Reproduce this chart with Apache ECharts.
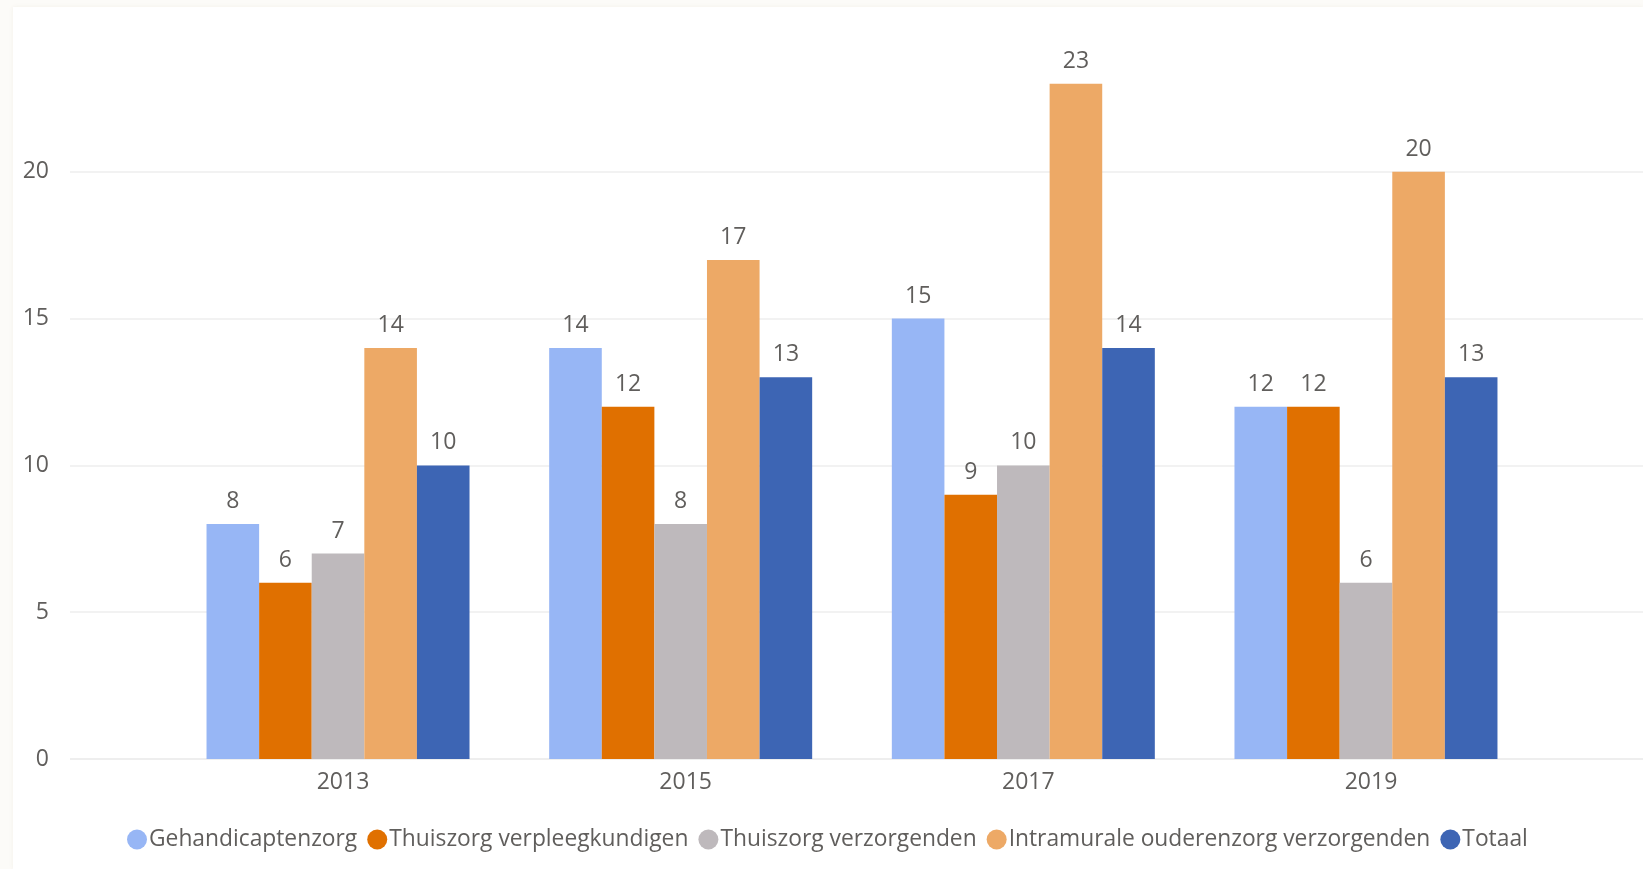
<!DOCTYPE html>
<html>
<head>
<meta charset="utf-8">
<title>Verzuim per sector</title>
<script src="https://cdn.jsdelivr.net/npm/echarts@6/dist/echarts.min.js"></script>
<style>
  html, body { margin: 0; padding: 0; width: 1643px; height: 869px; background: #FCFBF8; overflow: hidden; }
  #panel { position: absolute; left: 13px; top: 7px; right: 0; bottom: 0; background: #FFFFFF; box-shadow: 0 0 4px rgba(240, 235, 225, 0.6); }
  #chart { position: absolute; left: 0; top: 0; width: 1643px; height: 869px; }
</style>
</head>
<body>
<div id="panel"></div>
<div id="chart"></div>
<script>
// Jaren op de categorie-as
const years = ['2013', '2015', '2017', '2019'];

// Waarden per sector
const gehandicaptenzorg = [8, 14, 15, 12];
const thuiszorgVerpleegkundigen = [6, 12, 9, 12];
const thuiszorgVerzorgenden = [7, 8, 10, 6];
const intramuraleVerzorgenden = [14, 17, 23, 20];
const totaal = [10, 13, 14, 13];

const seriesNames = [
  'Gehandicaptenzorg',
  'Thuiszorg verpleegkundigen',
  'Thuiszorg verzorgenden',
  'Intramurale ouderenzorg verzorgenden',
  'Totaal'
];
const seriesValues = [gehandicaptenzorg, thuiszorgVerpleegkundigen, thuiszorgVerzorgenden, intramuraleVerzorgenden, totaal];
const colors = ['#97B6F5', '#E07000', '#BEB9BC', '#EDA966', '#3D65B4'];

const textColor = '#605E5C';
const fontFamily = '"Open Sans", "Noto Sans", sans-serif';
const fontSize = 23;

const chart = echarts.init(document.getElementById('chart'), null, { renderer: 'canvas' });

const series = seriesNames.map((name, i) => ({
  name: name,
  type: 'bar',
  xAxisIndex: 1,
  yAxisIndex: 1,
  data: seriesValues[i],
  barWidth: 52.6,
  barGap: '0%',
  itemStyle: { color: colors[i] },
  label: {
    show: true,
    position: 'top',
    distance: 11,
    color: textColor,
    fontFamily: fontFamily,
    fontSize: fontSize
  }
}));

chart.setOption({
  animation: false,
  color: colors,
  textStyle: { fontFamily: fontFamily },
  grid: [
    // full-width grid carrying the value axis and gridlines
    { left: 70, right: 0, top: 25, bottom: 110, containLabel: false },
    // grid holding the grouped bars
    { left: 166.7, right: 105.7, top: 25, bottom: 110, containLabel: false }
  ],
  xAxis: [
    { type: 'category', gridIndex: 0, data: years, show: false },
    {
      type: 'category',
      gridIndex: 1,
      data: years,
      axisLine: { show: false },
      axisTick: { show: false },
      axisLabel: {
        color: textColor,
        fontFamily: fontFamily,
        fontSize: fontSize,
        margin: 12,
        padding: [0, 0, 0, 10]
      }
    }
  ],
  yAxis: [
    {
      type: 'value',
      gridIndex: 0,
      min: 0,
      max: 25,
      interval: 5,
      axisLine: { show: false },
      axisTick: { show: false },
      axisLabel: {
        showMaxLabel: false,
        color: textColor,
        fontFamily: fontFamily,
        fontSize: fontSize,
        margin: 21
      },
      splitLine: {
        show: true,
        lineStyle: {
          width: 2,
          color: ['#EEEEEE', '#F2F2F2', '#F2F2F2', '#F2F2F2', '#F2F2F2', 'rgba(0,0,0,0)']
        }
      }
    },
    { type: 'value', gridIndex: 1, min: 0, max: 25, interval: 5, show: false }
  ],
  legend: {
    data: seriesNames,
    bottom: 13,
    left: 122,
    icon: 'circle',
    itemWidth: 20,
    itemHeight: 20,
    itemGap: 10,
    textStyle: {
      color: textColor,
      fontFamily: fontFamily,
      fontSize: 22.8,
      padding: [0, 0, 0, -3]
    }
  },
  series: series
});
</script>
</body>
</html>
